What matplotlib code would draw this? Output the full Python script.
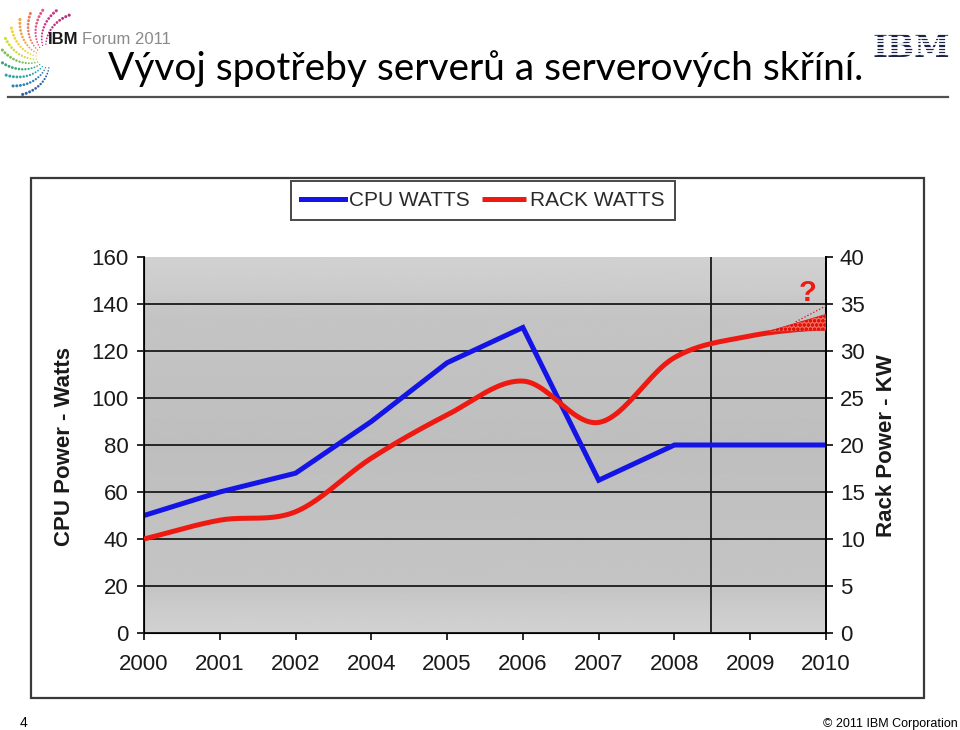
import numpy as np
import matplotlib
matplotlib.use('Agg')
import matplotlib.pyplot as plt
from matplotlib.patches import Rectangle, Polygon

# данные графика
years = ['2000', '2001', '2002', '2004', '2005', '2006', '2007', '2008', '2009', '2010']
cpu_watts = [50, 60, 68, 90, 115, 130, 65, 80, 80, 80]
rack_kw = [10, 12, 12.9, 18.6, 23.2, 26.8, 22.4, 29.3, 31.6, 32.6]
# неопределённость прогноза на конце (клин) и пунктир к вершине
wedge_x = [8.2, 9.0, 9.0]
wedge_y = [32.0, 33.9, 32.2]
dotted_x = [8.6, 9.0]
dotted_y = [33.1, 34.8]
split_at = 7.48  # вертикальная линия между 2008 и 2009

W, H = 960, 730
fig = plt.figure(figsize=(W / 100, H / 100), dpi=100)

# слой для декора страницы в пиксельных координатах
bg = fig.add_axes([0, 0, 1, 1], zorder=0)
bg.set_xlim(0, W)
bg.set_ylim(H, 0)
bg.axis('off')


def catmull(xs, ys, n=24):
    """Сглаживание линии как в Excel (только для отрисовки)."""
    xs = np.asarray(xs, float)
    ys = np.asarray(ys, float)
    px = np.concatenate([[2 * xs[0] - xs[1]], xs, [2 * xs[-1] - xs[-2]]])
    py = np.concatenate([[2 * ys[0] - ys[1]], ys, [2 * ys[-1] - ys[-2]]])
    ox, oy = [], []
    t = np.linspace(0, 1, n, endpoint=False)
    for i in range(1, len(px) - 2):
        for arr, out in ((px, ox), (py, oy)):
            p0, p1, p2, p3 = arr[i - 1], arr[i], arr[i + 1], arr[i + 2]
            out.extend(0.5 * (2 * p1 + (-p0 + p2) * t
                              + (2 * p0 - 5 * p1 + 4 * p2 - p3) * t ** 2
                              + (-p0 + 3 * p1 - 3 * p2 + p3) * t ** 3))
    ox.append(xs[-1])
    oy.append(ys[-1])
    return np.array(ox), np.array(oy)


# --- шапка слайда ---
bg.plot([8, 948], [97, 97], color='#505050', lw=1.6)
bg.text(48, 44, 'IBM', fontsize=12, fontweight='bold', color='#1a1a1a',
        family='Liberation Sans', va='baseline')
bg.text(82, 44, 'Forum 2011', fontsize=12, color='#8a8a8a',
        family='Liberation Sans', va='baseline')

# спиральный логотип из точек
arm_colors = ['#b0186e', '#c8207e', '#e0457f', '#ee6a4a', '#f39a2a', '#f2cf2a',
              '#c9d72e', '#6cbb3c', '#1f9f6a', '#1a9aa0', '#1b74b0', '#1e4f9a']
angles = np.array([-100, -117, -134, -150, -165, -180, 165, 150, 134, 118, 102, 86])
cx, cy = 48, 56
for a, col in zip(angles, arm_colors):
    r = np.linspace(12, 46, 13)
    th = np.deg2rad(a + 1.1 * (r - 12))
    bg.scatter(cx + r * np.cos(th), cy + r * np.sin(th), s=np.linspace(1, 5, 13),
               color=col, lw=0, alpha=0.9)

title = bg.text(108, 80, 'Vývoj spotřeby serverů a serverových skříní.',
                fontsize=30, family='Lato', color='black', va='baseline')
fig.canvas.draw()
ext = title.get_window_extent()
title.set_fontsize(30 * 754 / ext.width)

# логотип IBM в полоску
bg.text(911, 57, 'IBM', fontsize=23, fontweight='bold', family='DejaVu Serif',
        color='#1c2546', ha='center', va='baseline')
for k in range(1, 8):
    y = 31 + k * 3.3
    bg.plot([872, 952], [y, y], color='white', lw=1.3, zorder=5)

# --- подвал ---
bg.text(20, 727, '4', fontsize=10, family='Liberation Sans', va='baseline')
bg.text(958, 727, '\u00a9 2011 IBM Corporation', fontsize=9,
        family='Liberation Sans', ha='right', va='baseline')

# рамка области диаграммы
bg.add_patch(Rectangle((31, 178), 893, 520, fill=False, ec='#3a3a3a', lw=1.6))

# --- сама диаграмма ---
x0, x1, ytop, ybot = 144, 826, 257, 633
ax = fig.add_axes([x0 / W, 1 - ybot / H, (x1 - x0) / W, (ybot - ytop) / H], zorder=1)
ax.patch.set_alpha(0)
xs = np.arange(len(years))
ax.set_xlim(0, len(years) - 1)
ax.set_ylim(0, 160)

# фон с мягкими полосами
prof = np.interp(np.linspace(0, 1, 200), [0, 0.06, 0.12, 0.5, 0.85, 0.92, 1.0],
                 [0.82, 0.80, 0.77, 0.745, 0.77, 0.80, 0.82])
ax.imshow(prof[:, None], extent=[0, len(years) - 1, 0, 160], origin='lower',
          aspect='auto', cmap='gray', vmin=0, vmax=1, zorder=0)

for g in range(20, 160, 20):
    ax.axhline(g, color='#1a1a1a', lw=1.3, zorder=1)
ax.axvline(split_at, color='#1a1a1a', lw=1.3, zorder=1)

cpu_line, = ax.plot(xs, cpu_watts, color='#1414e6', lw=3.6, zorder=3,
                    solid_joinstyle='miter', label='CPU WATTS')

ax.set_xticks(xs)
ax.set_xticklabels(years)
ax.set_yticks(range(0, 161, 20))
ax.spines['top'].set_visible(False)
for sp in ['left', 'bottom', 'right']:
    ax.spines[sp].set_linewidth(1.4)
    ax.spines[sp].set_color('#1a1a1a')
ax.tick_params(axis='both', direction='out', length=5, width=1.3,
               labelsize=16, colors='#1a1a1a')
ax.tick_params(axis='y', pad=6)
ax.tick_params(axis='x', pad=10)
for lab in ax.get_xticklabels() + ax.get_yticklabels():
    lab.set_family('Liberation Sans')

ax2 = ax.twinx()
ax2.set_ylim(0, 40)
ax2.set_yticks(range(0, 41, 5))
ax2.spines['top'].set_visible(False)
ax2.spines['right'].set_linewidth(1.4)
ax2.tick_params(axis='y', direction='out', length=5, width=1.3, labelsize=16,
                pad=5, colors='#1a1a1a')
for lab in ax2.get_yticklabels():
    lab.set_family('Liberation Sans')

sx, sy = catmull(xs, rack_kw)
rack_line, = ax2.plot(sx, sy, color='#ee1a12', lw=3.6, zorder=3,
                      solid_capstyle='butt', label='RACK WATTS')
ax2.add_patch(Polygon(list(zip(wedge_x, wedge_y)), closed=True, fc='#f26a5c',
                      ec='#e0140c', hatch='oooo', lw=0.5, zorder=4))
ax2.plot(dotted_x, dotted_y, color='#d01010', lw=0.9, ls=':', zorder=4)
ax2.text(8.75, 36.2, '?', color='#ee1a12', fontsize=21, fontweight='bold',
         family='Liberation Sans', ha='center', va='center')

fig.text(65 / W, 1 - 446 / H, 'CPU Power - Watts', rotation=90, fontsize=16,
         fontweight='bold', family='Liberation Sans', ha='center', va='center',
         color='#1a1a1a')
fig.text(887 / W, 1 - 446 / H, 'Rack Power - KW', rotation=90, fontsize=16,
         fontweight='bold', family='Liberation Sans', ha='center', va='center',
         color='#1a1a1a')

leg = fig.legend(handles=[cpu_line, rack_line], loc='center',
                 bbox_to_anchor=(483 / W, 1 - 200.5 / H), ncol=2,
                 frameon=True, fancybox=False, handlelength=2.1,
                 handletextpad=0.2, columnspacing=0.6, borderpad=0.5,
                 prop={'family': 'Liberation Sans', 'size': 15})
leg.get_frame().set_edgecolor('#1a1a1a')
leg.get_frame().set_linewidth(1.4)
for t in leg.get_texts():
    t.set_color('#2a2a2a')

fig.savefig('out.png', dpi=100)
